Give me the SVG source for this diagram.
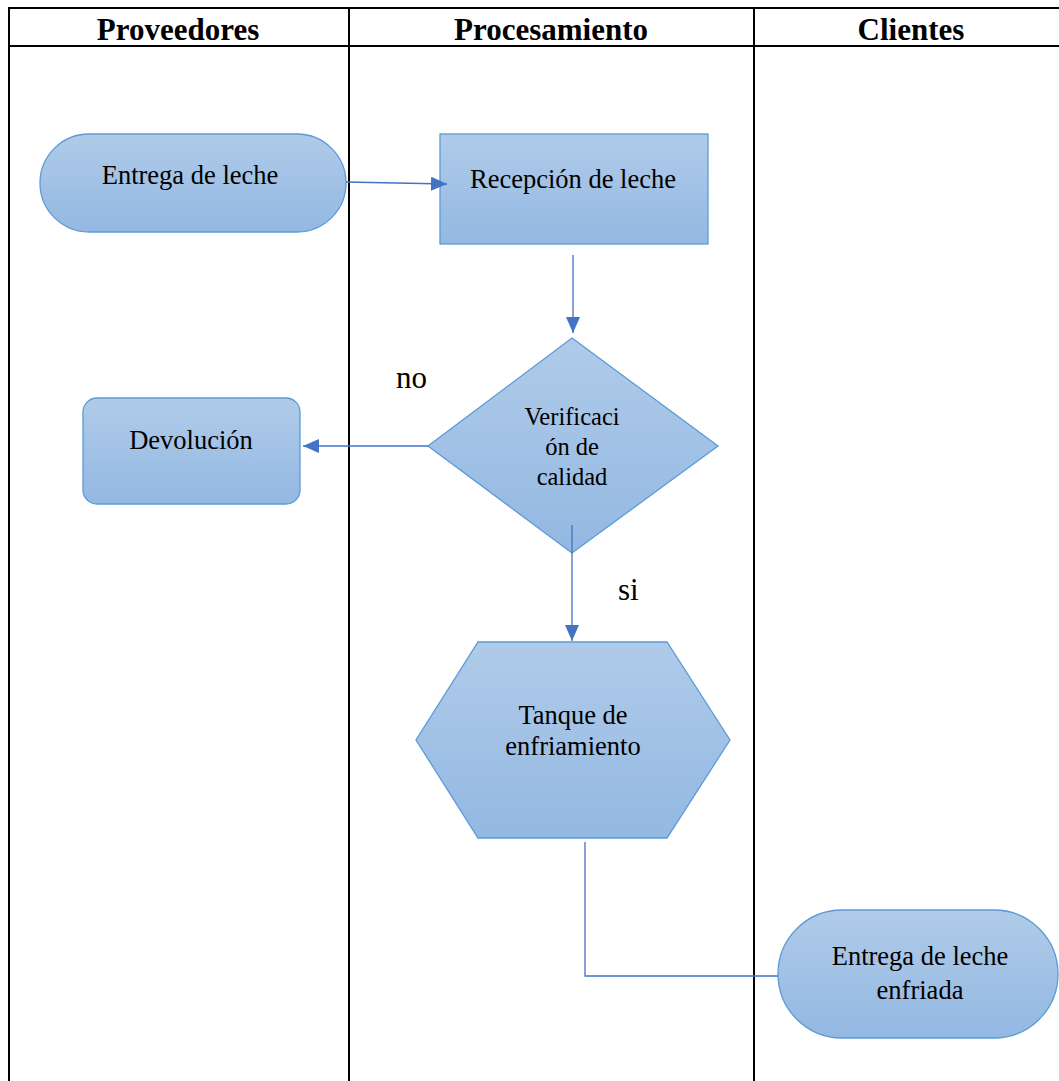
<svg xmlns="http://www.w3.org/2000/svg" width="1059" height="1081" viewBox="0 0 1059 1081">
<style>
.lane{stroke:#000;stroke-width:2;fill:none}
.hdr{font-family:"Liberation Serif",serif;font-weight:bold;font-size:31px;fill:#000;text-anchor:middle}
.shape{fill:url(#g);stroke:#5b9bd5;stroke-width:1.3}
.t{font-family:"Liberation Serif",serif;font-size:26.5px;fill:#000;text-anchor:middle}
.ts{font-family:"Liberation Serif",serif;font-size:24.5px;fill:#000;text-anchor:middle}
.lbl{font-family:"Liberation Serif",serif;font-size:31px;fill:#000}
.conn{stroke:#4472c4;stroke-width:1.3;fill:none}
</style>
<defs>
<linearGradient id="g" x1="0" y1="0" x2="0" y2="1">
<stop offset="0" stop-color="#b0cbe9"/>
<stop offset="1" stop-color="#93b8e2"/>
</linearGradient>
<marker id="arr" markerWidth="16" markerHeight="14" refX="16" refY="7" orient="auto" markerUnits="userSpaceOnUse" viewBox="0 0 16 14">
<path d="M0,0 L16,7 L0,14 Z" fill="#4472c4"/>
</marker>
</defs>
<rect width="1059" height="1081" fill="#fff"/>
<g id="lanes">
<path class="lane" d="M9,1081 V8 H1061 M9,46 H1061 M349,8 V1081 M754,8 V1081"/>
<text class="hdr" x="178" y="40">Proveedores</text>
<text class="hdr" x="551" y="40">Procesamiento</text>
<text class="hdr" x="911" y="40">Clientes</text>
</g>
<g id="n-entrega">
<rect class="shape" x="40" y="134" width="306" height="98" rx="49" ry="49"/>
<text class="t" x="190" y="184">Entrega de leche</text>
</g>
<g id="n-recepcion">
<rect class="shape" x="440" y="134" width="268" height="110"/>
<text class="t" x="573" y="188">Recepción de leche</text>
</g>
<g id="n-verificacion">
<polygon class="shape" points="572,338 718,446 572,553 428,446"/>
<text class="ts" x="572" y="425">Verificaci</text>
<text class="ts" x="572" y="455">ón de</text>
<text class="ts" x="572" y="485">calidad</text>
</g>
<g id="n-devolucion">
<rect class="shape" x="83" y="398" width="217" height="106" rx="14" ry="14"/>
<text class="t" x="191" y="449">Devolución</text>
</g>
<g id="n-tanque">
<polygon class="shape" points="478,642 667,642 730,740 667,838 478,838 416,740"/>
<text class="t" x="573" y="724">Tanque de</text>
<text class="t" x="573" y="755">enfriamiento</text>
</g>
<g id="n-entrega-enfriada">
<rect class="shape" x="778" y="910" width="280" height="128" rx="64" ry="64"/>
<text class="t" x="920" y="965">Entrega de leche</text>
<text class="t" x="920" y="999">enfriada</text>
</g>
<g id="connectors">
<path class="conn" d="M346,182 L447,184" marker-end="url(#arr)"/>
<path class="conn" d="M573,255 V333" marker-end="url(#arr)"/>
<path class="conn" d="M428,446 H303" marker-end="url(#arr)"/>
<path class="conn" d="M572,525 V641" marker-end="url(#arr)"/>
<path class="conn" d="M585,842 V976 H778"/>
<text class="lbl" x="396" y="388">no</text>
<text class="lbl" x="618" y="600">si</text>
</g>
</svg>
